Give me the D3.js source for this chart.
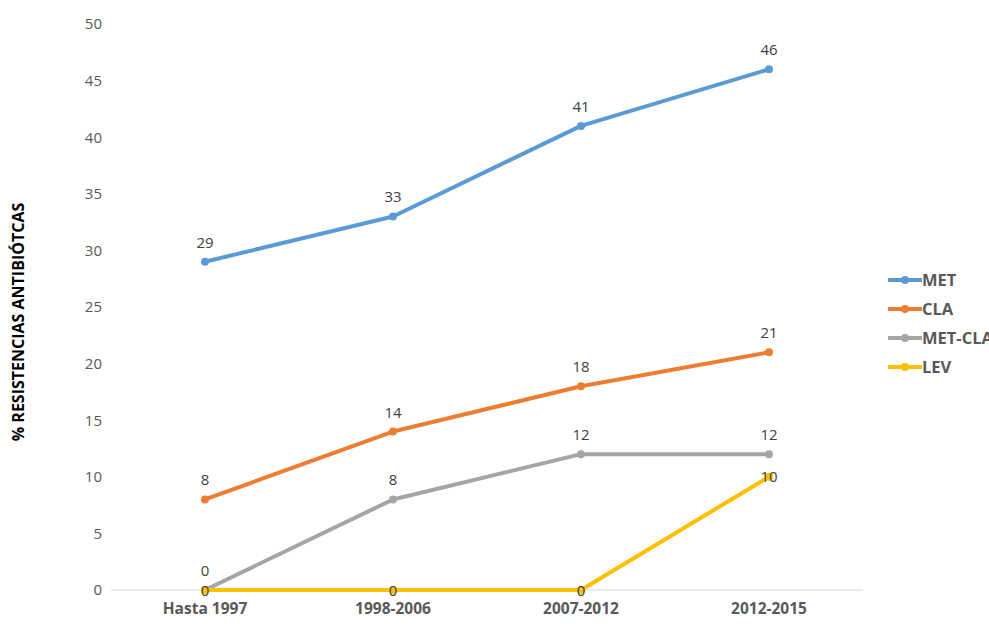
<!DOCTYPE html>
<html><head><meta charset="utf-8">
<script src="https://cdn.jsdelivr.net/npm/d3@7"></script>
<style>body{margin:0;background:#fff;}svg{display:block;}</style>
</head><body><div id="chart"></div>
<script>
const categories = ["Hasta 1997", "1998-2006", "2007-2012", "2012-2015"];
const seriesNames = ["MET", "CLA", "MET-CLA", "LEV"];
const metValues = [29, 33, 41, 46];
const claValues = [8, 14, 18, 21];
const metClaValues = [0, 8, 12, 12];
const levValues = [0, 0, 0, 10];
const yTicks = [0, 5, 10, 15, 20, 25, 30, 35, 40, 45, 50];
const colors = ["#5B9BD5", "#ED7D31", "#A5A5A5", "#FFC000"];
const labelPos = ["above", "above", "above", "center"];
const allValues = [metValues, claValues, metClaValues, levValues];

const W = 989, H = 630;
const svg = d3.select("#chart").append("svg").attr("width", W).attr("height", H);
const font = "'Open Sans', 'DejaVu Sans', sans-serif";

const x = d3.scaleBand().domain(categories).range([111, 863]).padding(0);
const y = d3.scaleLinear().domain([0, 50]).range([590, 24]);

// y tick labels
const yAxis = svg.append("g").attr("transform", "translate(102,0)")
  .call(d3.axisLeft(y).tickValues(yTicks).tickSize(0).tickPadding(0));
yAxis.select(".domain").remove();
yAxis.selectAll("text").attr("font-family", font).attr("font-size", 15).attr("fill", "#595959");

// x axis line
svg.append("line").attr("x1", 111).attr("x2", 863).attr("y1", y(0)).attr("y2", y(0))
  .attr("stroke", "#d9d9d9").attr("stroke-width", 1);

const xAxis = svg.append("g").attr("transform", `translate(0,${y(0)})`)
  .call(d3.axisBottom(x).tickSize(0).tickPadding(13));
xAxis.select(".domain").remove();
xAxis.selectAll("text").attr("font-family", font).attr("font-size", 15.5)
  .attr("font-weight", "bold").attr("fill", "#595959");

// y title
svg.append("text").attr("transform", `translate(24,322) rotate(-90)`)
  .attr("text-anchor", "middle").attr("font-family", font).attr("font-size", 16)
  .attr("font-weight", "bold").attr("fill", "#000").text("% RESISTENCIAS ANTIBIÓTCAS");

const cx = c => x(c) + x.bandwidth() / 2;
const line = d3.line().x((d, i) => cx(categories[i])).y(d => y(d));

allValues.forEach((vals, s) => {
  const g = svg.append("g");
  g.append("path").datum(vals).attr("d", line).attr("fill", "none")
    .attr("stroke", colors[s]).attr("stroke-width", 4).attr("stroke-linejoin", "round");
  g.selectAll("circle").data(vals).join("circle")
    .attr("cx", (d, i) => cx(categories[i])).attr("cy", d => y(d)).attr("r", 4)
    .attr("fill", colors[s]);
});

allValues.forEach((vals, s) => {
  svg.append("g").selectAll("text").data(vals).join("text")
    .attr("x", (d, i) => cx(categories[i]))
    .attr("y", d => labelPos[s] === "above" ? y(d) - 14 : y(d) + 5.5)
    .attr("text-anchor", "middle").attr("font-family", font).attr("font-size", 15)
    .attr("fill", "#404040").text(d => d);
});

// legend
const lg = svg.append("g");
seriesNames.forEach((n, i) => {
  const ly = 280 + i * 29;
  lg.append("line").attr("x1", 888).attr("x2", 922).attr("y1", ly).attr("y2", ly)
    .attr("stroke", colors[i]).attr("stroke-width", 4);
  lg.append("circle").attr("cx", 905).attr("cy", ly).attr("r", 4).attr("fill", colors[i]);
  lg.append("text").attr("x", 922).attr("y", ly + 6).attr("font-family", font)
    .attr("font-size", 16.5).attr("font-weight", "bold").attr("fill", "#595959").text(n);
});
</script></body></html>
